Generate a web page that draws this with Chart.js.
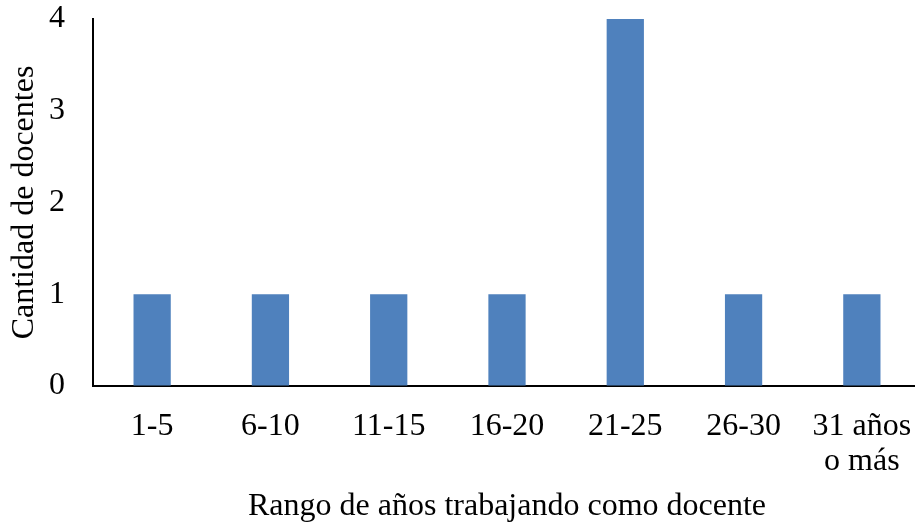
<!DOCTYPE html>
<html>
<head>
<meta charset="utf-8">
<script src="https://cdn.jsdelivr.net/npm/chart.js@4"></script>
<style>
  html, body { margin: 0; padding: 0; background: #fff; overflow: hidden; }
</style>
</head>
<body>
<!-- the plot runs slightly past the right edge in the original, so the canvas is a bit wider than the window -->
<canvas id="chart" width="921" height="527"></canvas>
<script>
const categories = ["1-5", "6-10", "11-15", "16-20", "21-25", "26-30", ["31 años", "o más"]];
const docentes = [1, 1, 1, 1, 4, 1, 1];
const xTitle = "Rango de años trabajando como docente";
const yTitle = "Cantidad de docentes";

const serif = "'Liberation Serif', 'Times New Roman', serif";

new Chart(document.getElementById("chart"), {
  type: "bar",
  data: {
    labels: categories,
    datasets: [
      {
        label: yTitle,
        data: docentes,
        backgroundColor: "#4F81BD",
        borderWidth: 0,
        categoryPercentage: 1,
        barPercentage: 0.315,
      },
    ],
  },
  options: {
    responsive: false,
    animation: false,
    layout: { padding: { top: 19, right: 0, left: 0, bottom: 0 } },
    plugins: {
      legend: { display: false },
      tooltip: { enabled: false },
    },
    scales: {
      x: {
        grid: { drawOnChartArea: false, drawTicks: false },
        border: { color: "#000", width: 2 },
        ticks: {
          color: "#000",
          padding: 23,
          maxRotation: 0,
          autoSkip: false,
          font: { family: serif, size: 32, lineHeight: 1.1 },
        },
        title: {
          display: true,
          text: xTitle,
          color: "#000",
          padding: { top: 0, bottom: 1 },
          font: { family: serif, size: 32 },
        },
        afterFit: (scale) => {
          scale.height = 141;
          scale.paddingLeft = 0;
          scale.paddingRight = 0;
        },
      },
      y: {
        min: 0,
        max: 4,
        grid: { drawOnChartArea: false, drawTicks: false },
        border: { color: "#000", width: 2 },
        ticks: {
          stepSize: 1,
          color: "#000",
          padding: 28,
          font: { family: serif, size: 32 },
        },
        title: {
          display: true,
          text: yTitle,
          color: "#000",
          padding: { top: 5, bottom: 0 },
          font: { family: serif, size: 32 },
        },
        afterFit: (scale) => {
          scale.width = 93;
          scale.paddingTop = 0;
          scale.paddingBottom = 0;
        },
      },
    },
  },
});
</script>
</body>
</html>
